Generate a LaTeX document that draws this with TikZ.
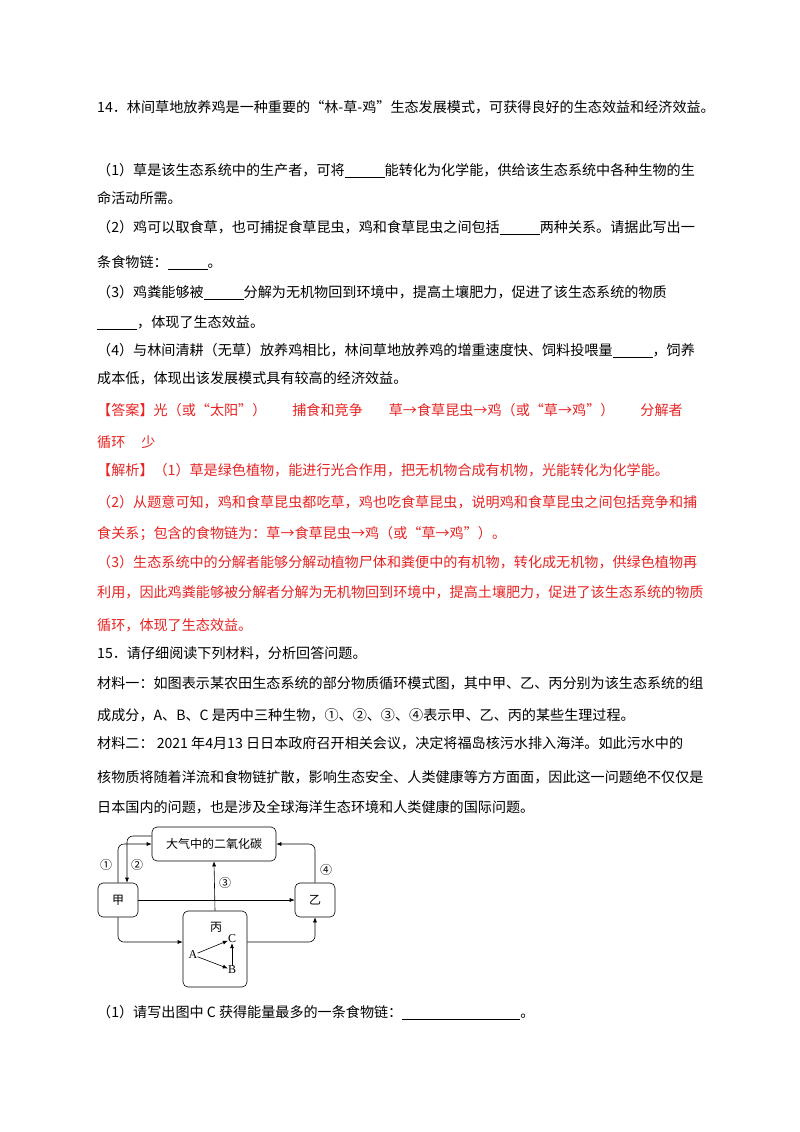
\documentclass[tikz,border=0pt]{standalone}
\usepackage{fontspec}
\setmainfont{Noto Sans CJK SC}
\newfontfamily\lat{Liberation Serif}
\usetikzlibrary{arrows.meta}
\definecolor{mred}{RGB}{232,35,35}
\newcommand\blk[1][40pt]{\rule[-2pt]{#1}{0.5pt}}
\begin{document}
\begin{tikzpicture}[x=1pt,y=-1pt,
  ln/.style={anchor=base west,inner sep=0pt,font=\fontsize{14.1}{16}\selectfont},
  rd/.style={ln,text=mred},
  bx/.style={draw,rounded corners=5pt,line width=0.6pt,font=\fontsize{12}{14}\selectfont},
  ar/.style={-{Latex[length=5pt,width=4pt]},line width=0.6pt},
  dl/.style={font=\fontsize{12}{14}\selectfont,inner sep=0pt}]
\useasboundingbox[fill=white] (0,0) rectangle (800,1132);
\node[ln] (t1) at (97,112) {14．林间草地放养鸡是一种重要的“林-草-鸡”生态发展模式，可获得良好的生态效益和经济效益。};
\node[ln] (t2) at (97,175) {（1）草是该生态系统中的生产者，可将\blk 能转化为化学能，供给该生态系统中各种生物的生};
\node[ln] (t3) at (97,203) {命活动所需。};
\node[ln] (t4) at (97,232) {（2）鸡可以取食草，也可捕捉食草昆虫，鸡和食草昆虫之间包括\blk 两种关系。请据此写出一};
\node[ln] (t5) at (97,267) {条食物链：\blk 。};
\node[ln] (t6) at (97,297) {（3）鸡粪能够被\blk 分解为无机物回到环境中，提高土壤肥力，促进了该生态系统的物质};
\node[ln] (t7) at (97,327) {\blk ，体现了生态效益。};
\node[ln] (t8) at (97,355) {（4）与林间清耕（无草）放养鸡相比，林间草地放养鸡的增重速度快、饲料投喂量\blk ，饲养};
\node[ln] (t9) at (97,383) {成本低，体现出该发展模式具有较高的经济效益。};
\node[rd] (a1) at (97,415) {【答案】光（或“太阳”）\hspace{26pt}捕食和竞争\hspace{26pt}草→食草昆虫→鸡（或“草→鸡”）\hspace{26pt}分解者};
\node[rd] (a5) at (97,447) {循环\hspace{16pt}少};
\node[rd] (j1) at (97,475) {【解析】（1）草是绿色植物，能进行光合作用，把无机物合成有机物，光能转化为化学能。};
\node[rd] (j2) at (97,507) {（2）从题意可知，鸡和食草昆虫都吃草，鸡也吃食草昆虫，说明鸡和食草昆虫之间包括竞争和捕};
\node[rd] (j3) at (97,538) {食关系；包含的食物链为：草→食草昆虫→鸡（或“草→鸡”）。};
\node[rd] (j4) at (97,567) {（3）生态系统中的分解者能够分解动植物尸体和粪便中的有机物，转化成无机物，供绿色植物再};
\node[rd] (j5) at (97,597) {利用，因此鸡粪能够被分解者分解为无机物回到环境中，提高土壤肥力，促进了该生态系统的物质};
\node[rd] (j6) at (97,630) {循环，体现了生态效益。};
\node[ln] (s1) at (97,658) {15．请仔细阅读下列材料，分析回答问题。};
\node[ln] (s2) at (97,688) {材料一：如图表示某农田生态系统的部分物质循环模式图，其中甲、乙、丙分别为该生态系统的组};
\node[ln] (s3) at (97,720) {成成分，A、B、C 是丙中三种生物，①、②、③、④表示甲、乙、丙的某些生理过程。};
\node[ln] (s4) at (97,748) {材料二： 2021 年4月13 日日本政府召开相关会议，决定将福岛核污水排入海洋。如此污水中的};
\node[ln] (s5) at (97,782) {核物质将随着洋流和食物链扩散，影响生态安全、人类健康等方方面面，因此这一问题绝不仅仅是};
\node[ln] (s6) at (97,812) {日本国内的问题，也是涉及全球海洋生态环境和人类健康的国际问题。};
\node[ln] (q1) at (97,1017) {（1）请写出图中 C 获得能量最多的一条食物链：\blk[118pt]。};
% diagram
\node[bx,minimum width=124pt,minimum height=34pt] (co) at (214,844) {大气中的二氧化碳};
\node[bx,minimum width=40pt,minimum height=34pt] (jia) at (118,900) {甲};
\node[bx,minimum width=40pt,minimum height=34pt] (yi) at (315,900) {乙};
\node[bx,minimum width=64pt,minimum height=76pt] (bing) at (215,949) {};
\node[dl] (bl) at (216,927) {丙};
\node[dl,font=\lat\fontsize{12}{14}\selectfont] (A) at (193,955) {A};
\node[dl,font=\lat\fontsize{12}{14}\selectfont] (C) at (232,939) {C};
\node[dl,font=\lat\fontsize{12}{14}\selectfont] (B) at (232,970) {B};
\draw[ar] (A) -- (C);
\draw[ar] (A) -- (B);
\draw[ar] (B) -- (C);
\draw[ar,rounded corners=6pt] (jia.north) |- (co.west);
\draw[ar,rounded corners=6pt] ([yshift=8pt]co.west) -| ([xshift=9pt]jia.north);
\draw[ar,rounded corners=6pt] (yi.north) |- (co.east);
\draw[ar] (bing.north) -- (co.south);
\draw[ar] (jia.east) -- (yi.west);
\draw[ar,rounded corners=6pt] (jia.south) |- ([yshift=7pt]bing.west);
\draw[ar,rounded corners=6pt] ([yshift=7pt]bing.east) -| (yi.south);
\node[dl] (n1) at (106,865) {①};
\node[dl] (n2) at (137,865) {②};
\node[dl] (n3) at (225,883) {③};
\node[dl] (n4) at (326,870) {④};
\end{tikzpicture}
\end{document}
